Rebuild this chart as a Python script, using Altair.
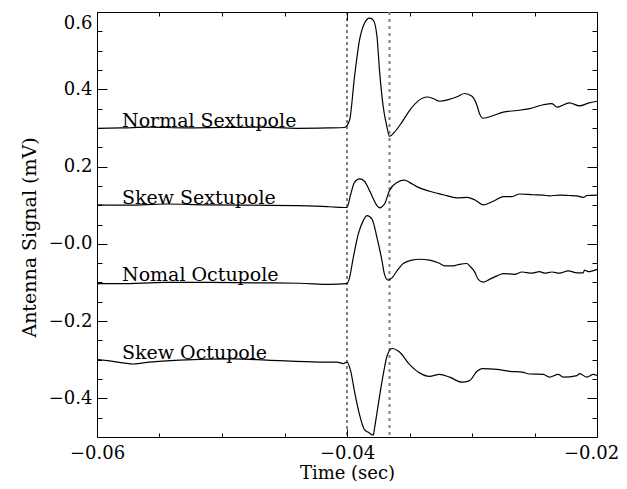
import altair as alt
import pandas as pd

FONT = "DejaVu Serif"

# ---- data (time in s, signal in mV) ----
ns_t = [-0.0600, -0.0580, -0.0558, -0.0530, -0.0500, -0.0470, -0.0440, -0.0415, -0.0402,
        -0.0398, -0.0394, -0.0390, -0.0386, -0.0382, -0.0379, -0.0376, -0.0374, -0.0371,
        -0.0368, -0.0366, -0.0362, -0.0356, -0.0350, -0.0343, -0.0336, -0.0331, -0.0326,
        -0.0319, -0.0311, -0.0306, -0.0300, -0.0296, -0.0294, -0.0291, -0.0283, -0.0275,
        -0.0264, -0.0254, -0.0243, -0.0236, -0.0232, -0.0222, -0.0214, -0.0207, -0.0200]
ns_v = [0.299, 0.300, 0.302, 0.300, 0.301, 0.302, 0.299, 0.300, 0.301,
        0.319, 0.432, 0.527, 0.571, 0.584, 0.579, 0.536, 0.449, 0.354,
        0.302, 0.278, 0.289, 0.315, 0.345, 0.370, 0.380, 0.376, 0.369,
        0.373, 0.382, 0.389, 0.382, 0.358, 0.337, 0.325, 0.332, 0.341,
        0.345, 0.350, 0.360, 0.363, 0.354, 0.365, 0.357, 0.364, 0.369]

ss_t = [-0.0600, -0.0575, -0.0545, -0.0515, -0.0480, -0.0440, -0.0414, -0.0400,
        -0.0397, -0.0394, -0.0390, -0.0386, -0.0382, -0.0376, -0.0374, -0.0370,
        -0.0366, -0.0360, -0.0354, -0.0350, -0.0343, -0.0334, -0.0323, -0.0312,
        -0.0304, -0.0298, -0.0291, -0.0283, -0.0275, -0.0268, -0.0262, -0.0251,
        -0.0243, -0.0238, -0.0230, -0.0222, -0.0216, -0.0211, -0.0208, -0.0200]
ss_v = [0.101, 0.100, 0.103, 0.101, 0.100, 0.099, 0.096, 0.094,
        0.129, 0.159, 0.168, 0.162, 0.138, 0.099, 0.093, 0.103,
        0.138, 0.159, 0.165, 0.159, 0.146, 0.136, 0.127, 0.119,
        0.120, 0.114, 0.101, 0.110, 0.122, 0.122, 0.129, 0.127,
        0.126, 0.124, 0.126, 0.125, 0.124, 0.120, 0.125, 0.126]

no_t = [-0.0600, -0.0582, -0.0545, -0.0510, -0.0475, -0.0438, -0.0414, -0.0400,
        -0.0398, -0.0395, -0.0391, -0.0387, -0.0384, -0.0380, -0.0376, -0.0372,
        -0.0370, -0.0367, -0.0364, -0.0360, -0.0355, -0.0348, -0.0342, -0.0334,
        -0.0327, -0.0322, -0.0315, -0.0310, -0.0304, -0.0302, -0.0298, -0.0295,
        -0.0291, -0.0286, -0.0280, -0.0275, -0.0266, -0.0260, -0.0252, -0.0246,
        -0.0242, -0.0236, -0.0230, -0.0223, -0.0216, -0.0211, -0.0210, -0.0207, -0.0200]
no_v = [-0.103, -0.103, -0.100, -0.100, -0.101, -0.102, -0.105, -0.103,
        -0.088, -0.036, 0.025, 0.060, 0.073, 0.064, 0.016, -0.044,
        -0.079, -0.094, -0.088, -0.070, -0.051, -0.042, -0.040, -0.042,
        -0.049, -0.057, -0.057, -0.053, -0.051, -0.057, -0.072, -0.092,
        -0.099, -0.092, -0.083, -0.077, -0.079, -0.073, -0.076, -0.072,
        -0.076, -0.073, -0.076, -0.070, -0.075, -0.075, -0.068, -0.072, -0.066]

so_t = [-0.0600, -0.0590, -0.0571, -0.0558, -0.0534, -0.0491, -0.0464, -0.0422,
        -0.0408, -0.0403, -0.0400, -0.0397, -0.0394, -0.0390, -0.0386, -0.0383,
        -0.0379, -0.0378, -0.0375, -0.0371, -0.0368, -0.0364, -0.0358, -0.0350,
        -0.0342, -0.0334, -0.0326, -0.0318, -0.0308, -0.0302, -0.0296, -0.0292,
        -0.0280, -0.0270, -0.0260, -0.0254, -0.0243, -0.0238, -0.0231, -0.0227,
        -0.0216, -0.0214, -0.0208, -0.0203, -0.0200]
so_v = [-0.299, -0.303, -0.311, -0.306, -0.301, -0.298, -0.301, -0.306,
        -0.306, -0.310, -0.306, -0.330, -0.382, -0.442, -0.481, -0.488,
        -0.495, -0.478, -0.416, -0.338, -0.291, -0.271, -0.280, -0.312,
        -0.334, -0.343, -0.338, -0.345, -0.358, -0.354, -0.330, -0.323,
        -0.325, -0.330, -0.332, -0.337, -0.338, -0.345, -0.338, -0.345,
        -0.341, -0.336, -0.345, -0.338, -0.341]

series_names = ["Normal Sextupole", "Skew Sextupole", "Nomal Octupole", "Skew Octupole"]
label_t = [-0.0580, -0.0580, -0.0580, -0.0580]
label_v = [0.303, 0.103, -0.097, -0.297]
marker_t = [-0.0400, -0.0366]

x_major = [-0.06, -0.04, -0.02]
x_minor = [-0.055, -0.05, -0.045, -0.035, -0.03, -0.025]
y_major = [0.6, 0.4, 0.2, 0.0, -0.2, -0.4]
y_minor = [0.55, 0.5, 0.45, 0.35, 0.3, 0.25, 0.15, 0.1, 0.05,
           -0.05, -0.1, -0.15, -0.25, -0.3, -0.35, -0.45]

# ---- tables ----
frames = []
for name, ts, vs in zip(series_names, [ns_t, ss_t, no_t, so_t], [ns_v, ss_v, no_v, so_v]):
    frames.append(pd.DataFrame({"t": ts, "v": vs, "series": name}))
df = pd.concat(frames, ignore_index=True)
labels_df = pd.DataFrame({"t": label_t, "v": label_v, "text": series_names})
dash_df = pd.DataFrame({"t": [marker_t[0]]})
dot_df = pd.DataFrame({"t": [marker_t[1]]})

xs = alt.Scale(domain=[-0.06, -0.02], nice=False, zero=False)
ys = alt.Scale(domain=[-0.5, 0.6], nice=False, zero=False)


def tick_axis(orient, values, size):
    return alt.Axis(orient=orient, values=values, tickSize=size, offset=-size,
                    labels=False, domain=False, grid=False, ticks=True,
                    tickColor="black", tickWidth=1, title=None)


x_main = alt.Axis(orient="bottom", values=x_major, tickSize=8, offset=-8,
                  domain=False, grid=False, tickColor="black", tickWidth=1,
                  labelExpr="'\u2212' + format(abs(datum.value), '.2f')",
                  labelFont=FONT, labelFontSize=18, labelColor="black",
                  labelPadding=7, labelFlush=False, labelOverlap=False,
                  labelOffset=alt.condition("datum.value > -0.025", alt.value(-6), alt.value(0)),
                  title="Time (sec)", titleFont=FONT, titleFontSize=18,
                  titleFontWeight="normal", titleColor="black",
                  titleBaseline="alphabetic", titleY=49)
y_main = alt.Axis(orient="left", values=y_major, tickSize=10, offset=-10,
                  domain=False, grid=False, tickColor="black", tickWidth=1,
                  labelExpr="datum.value < 0.01 ? '\u2212' + format(abs(datum.value), '.1f') : format(datum.value, '.1f')",
                  labelFont=FONT, labelFontSize=18, labelColor="black",
                  labelPadding=5, labelFlush=True, labelFlushOffset=-2,
                  labelOverlap=False,
                  title="Antenna Signal (mV)", titleFont=FONT, titleFontSize=19,
                  titleFontWeight="normal", titleColor="black", titlePadding=9,
                  titleY=225)

lines = alt.Chart(df).mark_line(color="black", strokeWidth=1.2, interpolate="monotone").encode(
    x=alt.X("t:Q", scale=xs, axis=x_main),
    y=alt.Y("v:Q", scale=ys, axis=y_main),
    detail="series:N",
)


def ghost(xa, ya):
    return alt.Chart(df).mark_line(opacity=0).encode(
        x=alt.X("t:Q", scale=xs, axis=xa),
        y=alt.Y("v:Q", scale=ys, axis=ya),
        detail="series:N",
    )


g1 = ghost(tick_axis("bottom", x_minor, 4), tick_axis("left", y_minor, 5))
g2 = ghost(tick_axis("top", x_major, 8), tick_axis("right", y_major, 10))
g3 = ghost(tick_axis("top", x_minor, 4), tick_axis("right", y_minor, 5))

dash = alt.Chart(dash_df).mark_rule(color="black", strokeWidth=1, strokeDash=[3, 3]).encode(
    x=alt.X("t:Q", scale=xs, axis=None)
)
dot = alt.Chart(dot_df).mark_rule(color="#7f7f7f", strokeWidth=2, strokeDash=[3, 4]).encode(
    x=alt.X("t:Q", scale=xs, axis=None)
)

texts = alt.Chart(labels_df).mark_text(
    align="left", baseline="alphabetic", font=FONT, fontSize=19, color="black"
).encode(
    x=alt.X("t:Q", scale=xs, axis=None),
    y=alt.Y("v:Q", scale=ys, axis=None),
    text="text:N",
)

chart = (
    alt.layer(dash, dot, lines, texts, g1, g2, g3)
    .resolve_axis(x="independent", y="independent")
    .properties(
        width=500,
        height=425,
        autosize=alt.AutoSizeParams(type="none"),
        padding={"left": 89, "top": 4, "right": 22, "bottom": 44},
        background="white",
    )
    .configure_view(stroke="black", strokeWidth=1)
)

chart.save("out.html", embed_options={"renderer": "svg", "actions": False})
